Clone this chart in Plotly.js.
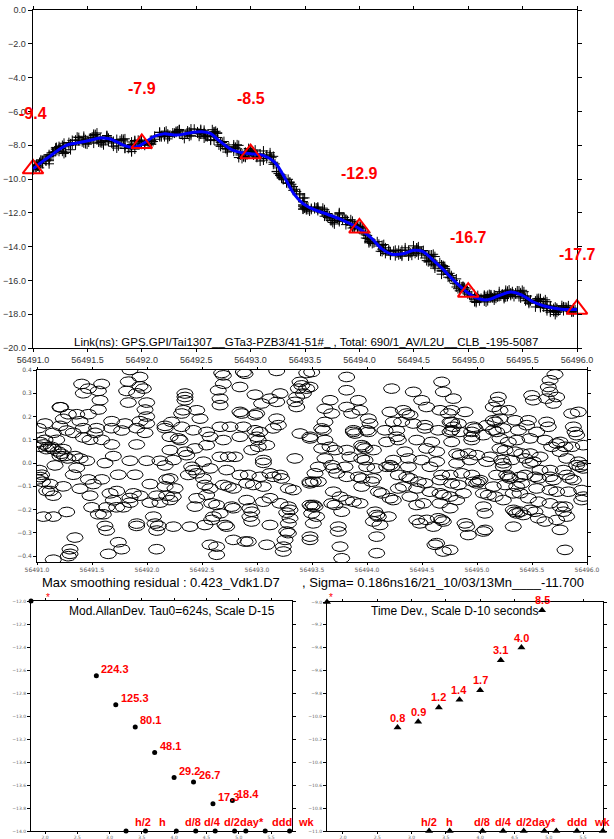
<!DOCTYPE html>
<html><head><meta charset="utf-8">
<script src="https://cdn.plot.ly/plotly-3.0.1.min.js"></script>
<style>html,body{margin:0;padding:0;background:#fff;}#chart{width:614px;height:839px;}</style>
</head><body><div id="chart"></div>
<script>
// ---------- top panel: smoothed link (ns) ----------
const smoothMJD = [56491.000,56491.050,56491.100,56491.156,56491.230,56491.310,56491.390,56491.463,56491.545,56491.620,
  56491.700,56491.770,56491.830,56491.920,56492.000,56492.060,56492.106,56492.200,56492.320,56492.410,
  56492.500,56492.550,56492.630,56492.720,56492.830,56492.920,56493.000,56493.120,56493.220,56493.320,
  56493.400,56493.480,56493.580,56493.710,56493.850,56493.990,56494.110,56494.210,56494.300,56494.400,
  56494.500,56494.580,56494.670,56494.770,56494.860,56494.980,56495.080,56495.180,56495.290,56495.390,
  56495.490,56495.590,56495.690,56495.780,56495.880,56496.000];
const smoothNs = [-9.40,-9.15,-8.90,-8.65,-8.30,-8.00,-7.88,-7.80,-7.68,-7.57,
  -7.62,-7.80,-8.00,-8.13,-7.95,-7.70,-7.50,-7.33,-7.40,-7.31,
  -7.22,-7.20,-7.30,-7.78,-8.28,-8.45,-8.50,-8.62,-9.00,-10.00,
  -10.90,-11.45,-11.80,-12.10,-12.45,-12.90,-13.50,-14.15,-14.45,-14.42,
  -14.22,-14.28,-14.75,-15.35,-15.95,-16.65,-17.05,-17.15,-16.88,-16.68,
  -16.85,-17.25,-17.50,-17.63,-17.72,-17.72];
const epochMJD = [56491.0,56492.0,56493.0,56494.0,56495.0,56496.0];
const epochNs = [-9.4,-7.9,-8.5,-12.9,-16.7,-17.7];
const epochLabels = ['-9.4','-7.9','-8.5','-12.9','-16.7','-17.7'];

// ---------- middle panel: smoothing residuals (ns) ----------
const residMJD = [
 56491.845,56491.936,56491.406,56491.467,56491.421,56491.588,56491.558,56491.830,56491.815,56491.936,
 56491.967,56491.906,56491.573,56491.558,56491.209,56491.215,56491.830,56491.997,56491.982,56491.997,
 56491.285,56491.361,56491.467,56491.239,56491.391,56491.073,56491.012,56491.679,56491.800,56491.936,
 56491.997,56492.164,56492.164,56491.209,56491.270,56491.421,56491.542,56491.679,56491.770,56491.906,
 56491.982,56491.148,56491.330,56491.527,56491.421,56491.482,56491.588,56491.073,56491.179,56491.027,
 56491.088,56491.148,56491.239,56491.209,56491.679,56491.906,56491.345,56491.391,56491.452,56491.694,
 56491.164,56491.361,56491.618,56491.845,56491.997,56492.118,56492.164,56491.042,56491.330,56491.467,
 56491.588,56491.739,56491.891,56491.005,56491.118,56491.239,56491.391,56491.512,56491.724,56491.876,
 56492.027,56492.179,56492.164,56491.088,56491.148,56491.482,56491.664,56491.694,56491.785,56491.845,
 56491.936,56492.088,56492.179,56491.497,56491.633,56491.724,56491.845,56492.118,56492.027,56491.603,
 56491.558,56491.058,56491.148,56491.270,56492.058,56492.073,56492.103,56492.088,56491.906,56491.906,
 56491.618,56491.633,56491.345,56491.739,56491.770,56492.088,56491.300,56491.300,56491.285,56491.648,
 56491.148,56491.030,56491.060,56491.100,56491.130,56491.190,56491.220,56491.250,56491.280,56491.020,
 56491.030,56491.050,56491.120,
 56492.679,56492.694,56492.876,56492.891,56493.179,56493.452,56492.694,56492.648,56492.845,56492.982,
 56493.042,56493.118,56493.179,56493.209,56493.391,56493.406,56493.376,56493.452,56493.421,56493.361,
 56493.345,56493.361,56492.345,56492.345,56492.345,56492.664,56492.664,56492.330,56492.315,56492.452,
 56492.482,56492.845,56492.861,56492.997,56492.982,56492.224,56492.315,56492.421,56492.542,56492.664,
 56492.755,56492.876,56492.982,56493.027,56493.179,56493.194,56493.148,56492.209,56492.285,56492.300,
 56492.573,56492.694,56492.845,56492.997,56493.012,56492.209,56492.345,56492.361,56492.436,56492.542,
 56492.664,56492.739,56492.800,56492.952,56493.012,56493.088,56493.058,56493.058,56493.391,56493.482,
 56492.239,56492.406,56492.421,56492.452,56492.512,56492.573,56492.724,56492.845,56492.921,56493.027,
 56493.118,56493.148,56493.209,56493.345,56492.255,56492.376,56492.512,56492.527,56492.573,56492.694,
 56492.739,56492.785,56492.906,56492.967,56493.058,56493.224,56493.285,56493.330,56493.482,56492.239,
 56492.452,56492.542,56492.588,56492.633,56492.770,56492.785,56492.906,56492.936,56493.058,56493.118,
 56493.209,56493.285,56493.300,56493.270,56492.436,56492.603,56492.664,56492.588,56492.709,56492.724,
 56492.952,56492.936,56492.952,56493.118,56493.285,56492.239,56492.391,56492.527,56493.270,56493.285,
 56493.255,56493.239,56493.239,56492.573,56492.633,56492.785,56492.891,56492.921,56493.088,56492.633,
 56492.209,56492.209,56493.482,56493.482,56493.497,56493.497,56493.300,
 56493.497,56493.482,56493.815,56493.815,56494.224,56494.421,56494.679,56494.694,56493.664,56493.921,
 56493.815,56493.618,56493.936,56493.679,56493.861,56494.209,56494.330,56494.361,56494.391,56494.497,
 56494.542,56494.664,56494.739,56493.618,56494.012,56494.027,56494.239,56494.315,56494.421,56494.527,
 56494.527,56494.755,56493.603,56493.588,56493.876,56493.876,56493.891,56493.997,56494.012,56494.164,
 56494.270,56494.648,56494.755,56493.482,56493.618,56493.664,56493.952,56493.967,56493.982,56494.179,
 56494.270,56494.285,56494.452,56494.588,56494.770,56493.588,56493.709,56493.815,56494.058,56494.345,
 56494.542,56494.633,56493.618,56493.845,56493.952,56493.982,56494.239,56494.376,56494.497,56494.633,
 56493.558,56493.679,56493.694,56493.800,56493.997,56494.073,56494.179,56494.209,56494.224,56494.376,
 56494.573,56493.527,56493.724,56493.815,56493.921,56493.952,56494.058,56494.042,56494.285,56494.361,
 56494.391,56494.467,56494.527,56494.679,56494.664,56493.512,56493.558,56493.952,56494.103,56494.133,
 56494.285,56494.330,56494.452,56494.573,56494.664,56494.694,56493.694,56493.755,56493.815,56493.876,
 56493.936,56493.679,56493.709,56494.209,56494.239,56494.391,56494.452,56494.512,56494.664,56493.512,
 56493.527,56493.542,56493.512,56493.770,56494.073,56494.088,56494.103,56494.194,56494.058,56494.118,
 56494.452,56494.482,56494.648,56494.679,56494.694,56494.542,56494.603,56493.739,56493.739,56494.088,
 56493.755,56493.770,56494.088,56494.633,56494.618,56494.694,56493.482,56493.482,
 56495.709,56495.664,56495.648,56495.664,56495.724,56495.694,56495.497,56495.512,56495.633,56495.194,
 56495.179,56494.785,56495.148,56495.209,56495.285,56494.891,56494.770,56495.921,56495.861,56494.770,
 56494.785,56494.830,56494.967,56494.982,56495.088,56495.148,56495.164,56495.209,56495.345,56495.467,
 56495.451,56495.633,56495.648,56494.770,56494.845,56494.952,56494.952,56495.058,56495.148,56495.179,
 56495.239,56495.376,56495.542,56495.876,56495.891,56495.906,56494.952,56495.209,56495.285,56495.361,
 56495.482,56495.618,56495.755,56495.800,56495.861,56495.724,56495.679,56495.967,56494.815,56494.845,
 56494.921,56494.997,56495.118,56495.209,56495.255,56495.345,56495.406,56495.482,56495.573,56495.755,
 56495.815,56495.921,56494.815,56494.936,56495.088,56495.224,56495.239,56495.239,56495.315,56495.436,
 56495.482,56495.512,56495.573,56495.664,56495.785,56495.906,56495.936,56495.967,56495.982,56494.755,
 56494.861,56494.952,56495.179,56495.270,56495.285,56495.300,56495.391,56495.436,56495.527,56495.558,
 56495.664,56495.694,56495.815,56495.845,56495.876,56494.770,56494.830,56494.967,56494.997,56495.012,
 56495.027,56495.148,56495.255,56495.361,56495.406,56495.542,56495.664,56495.724,56495.830,56495.952,
 56495.967,56495.952,56494.755,56494.876,56495.058,56495.103,56495.164,56495.239,56495.330,56495.391,
 56495.467,56495.558,56495.664,56495.755,56495.800,56495.785,56494.755,56494.815,56495.058,56495.073,
 56495.330,56495.345,56495.361,56495.391,56495.421,56495.482,56495.527,56495.558,56495.618,56495.724,
 56495.815,56494.891,56494.906,56494.921,56495.058,56495.073,56495.330,56495.755,56495.800,56494.755];
const residNs = [
 .40,.37,.34,.32,.30,.34,.31,.35,.31,.33,
 .32,.30,.27,.23,.24,.24,.26,.26,.23,.20,
 .21,.21,.21,.19,.18,.17,.15,.18,.17,.18,
 .17,.16,.15,.16,.14,.15,.15,.15,.14,.15,
 .13,.13,.13,.13,.11,.10,.10,.10,.10,.07,
 .06,.06,.06,.03,.08,.08,.03,.02,.01,.03,
 -.01,-.02,.00,.01,.01,.01,-.01,-.05,-.05,-.07,
 -.07,-.05,-.05,-.07,-.09,-.10,-.11,-.09,-.12,-.13,
 -.09,-.07,-.10,-.12,-.14,-.14,-.13,-.16,-.19,-.15,
 -.14,-.14,-.14,-.19,-.19,-.19,-.17,-.17,-.17,-.22,
 -.22,-.23,-.23,-.21,-.23,-.26,-.27,-.29,-.26,-.27,
 -.27,-.29,-.32,-.34,-.37,-.37,-.37,-.39,-.40,-.39,
 -.415,.09,.08,.07,.07,.05,.04,.03,.02,-.03,
 -.06,-.08,-.12,
 .387,.377,.391,.384,.396,.387,.341,.313,.327,.294,
 .256,.277,.263,.299,.349,.334,.320,.320,.299,.284,
 .263,.241,.299,.284,.270,.277,.249,.227,.213,.227,
 .191,.220,.213,.213,.206,.177,.156,.141,.134,.156,
 .156,.156,.141,.134,.191,.163,.149,.113,.106,.099,
 .113,.099,.113,.113,.099,.056,.049,.034,.063,.077,
 .027,.027,.027,.056,.070,.077,.013,.001,.127,.113,
 .013,-.016,-.030,-.044,.006,-.023,-.030,-.051,-.051,-.059,
 -.044,-.059,-.051,.020,-.109,-.051,-.066,-.094,-.109,-.094,
 -.101,-.109,-.087,-.094,-.101,-.066,-.109,-.116,-.080,-.144,
 -.151,-.137,-.173,-.180,-.187,-.194,-.159,-.194,-.166,-.151,
 -.173,-.187,-.201,-.213,-.187,-.230,-.216,-.244,-.266,-.273,
 -.209,-.230,-.251,-.266,-.259,-.273,-.273,-.266,-.294,-.301,
 -.330,-.359,-.380,-.351,-.359,-.330,-.337,-.337,-.351,-.394,
 -.066,-.159,-.087,-.180,-.187,-.216,-.237,
 .391,.327,.370,.313,.320,.306,.349,.306,.270,.270,
 .241,.234,.227,.213,.213,.220,.227,.213,.206,.270,
 .241,.227,.213,.177,.191,.170,.177,.177,.170,.163,
 .149,.177,.141,.149,.141,.134,.127,.141,.134,.141,
 .141,.141,.134,.106,.099,.070,.077,.070,.063,.091,
 .113,.099,.099,.091,.091,.063,.056,.056,.056,.049,
 .063,.049,.020,.027,.020,.013,.013,.020,.013,.006,
 -.016,-.009,-.023,-.016,-.016,-.023,-.016,-.009,-.016,-.016,
 -.016,-.044,-.044,-.059,-.059,-.066,-.066,-.080,-.051,-.059,
 -.066,-.080,-.087,-.051,-.073,-.080,-.080,-.101,-.123,-.130,
 -.109,-.101,-.109,-.123,-.130,-.137,-.123,-.144,-.159,-.166,
 -.173,-.173,-.180,-.151,-.159,-.144,-.180,-.173,-.173,-.180,
 -.187,-.230,-.259,-.209,-.209,-.223,-.230,-.230,-.251,-.266,
 -.244,-.259,-.237,-.244,-.251,-.244,-.273,-.273,-.294,-.316,
 -.359,-.409,-.387,-.344,-.351,-.380,-.316,-.330,
 .381,.356,.327,.306,.284,.256,.291,.270,.277,.284,
 .263,.277,.241,.227,.227,.220,.227,.220,.213,.177,
 .156,.170,.156,.149,.163,.184,.177,.191,.184,.184,
 .163,.177,.156,.141,.134,.134,.113,.120,.141,.134,
 .149,.141,.134,.156,.134,.120,.099,.106,.091,.099,
 .106,.099,.091,.070,.070,.084,.070,.077,.041,.034,
 .041,.034,.027,.063,.056,.049,.041,.041,.027,.049,
 .020,.006,-.001,.013,.006,.013,-.001,-.016,.013,.020,
 -.001,.006,-.030,-.030,-.030,-.009,-.016,-.023,-.009,-.051,
 -.044,-.051,-.051,-.051,-.059,-.066,-.059,-.051,-.059,-.066,
 -.059,-.073,-.051,-.066,-.073,-.087,-.094,-.080,-.087,-.080,
 -.073,-.101,-.094,-.101,-.087,-.109,-.116,-.123,-.123,-.116,
 -.144,-.159,-.144,-.130,-.130,-.137,-.144,-.159,-.130,-.130,
 -.151,-.166,-.173,-.187,-.187,-.209,-.194,-.159,-.187,-.216,
 -.201,-.209,-.216,-.209,-.223,-.201,-.209,-.237,-.251,-.244,
 -.230,-.259,-.273,-.309,-.294,-.287,-.273,-.287,-.373,-.373];

// ---------- bottom panels: stability (log10 tau, log10 value) ----------
const logTau = [2.795,3.096,3.397,3.698,3.999,4.300,4.601,4.902];
const madevLog = [-12.649,-12.902,-13.096,-13.318,-13.535,-13.573,-13.762,-13.735];
const madevLabels = ['224.3','125.3','80.1','48.1','29.2','26.7','17.3','18.4'];
const tdevLog = [-10.097,-10.046,-9.921,-9.854,-9.770,-9.509,-9.398,-9.071];
const tdevLabels = ['0.8','0.9','1.2','1.4','1.7','3.1','4.0','8.5'];
const spanLog = [3.255,3.556,4.033,4.334,4.635,4.936,5.110,5.410,5.788];
const spanLabelLog = [3.255,3.556,4.033,4.334,4.635,4.936,5.410,5.788];
const spanLabels = ['h/2','h','d/8','d/4','d/2','day*','ddd','wk'];
const madevFloor = -14.0, tdevFloor = -11.0;
const madevCornerLog = [1.783], tdevCornerLog = [1.767];
const madevCorner = [-12.0], tdevCorner = [-9.0];

// ---------- build ----------
function smoothAt(t){
  for (let i=1;i<smoothMJD.length;i++){
    if (t<=smoothMJD[i]){
      const f=(t-smoothMJD[i-1])/(smoothMJD[i]-smoothMJD[i-1]);
      return smoothNs[i-1]+f*(smoothNs[i]-smoothNs[i-1]);
    }
  }
  return smoothNs[smoothNs.length-1];
}
// raw link samples = smoothed curve + residual
const rawNs = residMJD.map((t,i)=>smoothAt(t)+residNs[i]);

// ellipse glyph outline (half-axes in data units ~ 8px x 4.8px)
const EA = 8*5/550, EB = 4.8*0.825/192;
const ex=[], ey=[];
residMJD.forEach((t,i)=>{
  for(let k=0;k<=24;k++){const a=k*Math.PI/12; ex.push(t+EA*Math.cos(a)); ey.push(residNs[i]+EB*Math.sin(a));}
  ex.push(null); ey.push(null);
});

const FONT = 'Liberation Sans, Arial, sans-serif';
const RED = '#ff0000';

const traces = [
  {x:residMJD, y:rawNs, xaxis:'x', yaxis:'y', mode:'markers', type:'scatter', hoverinfo:'skip',
   marker:{symbol:'cross-thin-open', size:7, color:'#000', line:{width:1, color:'#000'}}},
  {x:smoothMJD, y:smoothNs, xaxis:'x', yaxis:'y', mode:'lines', type:'scatter',
   line:{color:'#0000ff', width:3, shape:'spline', smoothing:1}},
  {x:epochMJD, y:epochNs, xaxis:'x', yaxis:'y', mode:'markers', type:'scatter', cliponaxis:false,
   marker:{symbol:'triangle-up-open', size:18, color:RED, line:{width:2, color:RED}}},
  {x:ex, y:ey, xaxis:'x2', yaxis:'y2', mode:'lines', type:'scatter', connectgaps:false, hoverinfo:'skip',
   line:{color:'#000', width:1}},
  {x:logTau, y:madevLog, xaxis:'x3', yaxis:'y3', mode:'markers', type:'scatter',
   marker:{symbol:'circle', size:5, color:'#000'}},
  {x:spanLog, y:spanLog.map(()=>madevFloor), xaxis:'x3', yaxis:'y3', mode:'markers', type:'scatter', cliponaxis:false,
   marker:{symbol:'circle', size:5, color:'#000'}},
  {x:madevCornerLog, y:madevCorner, xaxis:'x3', yaxis:'y3', mode:'markers', type:'scatter', cliponaxis:false,
   marker:{symbol:'circle', size:5, color:'#000'}},
  {x:logTau, y:tdevLog, xaxis:'x4', yaxis:'y4', mode:'markers', type:'scatter', cliponaxis:false,
   marker:{symbol:'triangle-up', size:7, color:'#000'}},
  {x:spanLog, y:spanLog.map(()=>tdevFloor), xaxis:'x4', yaxis:'y4', mode:'markers', type:'scatter', cliponaxis:false,
   marker:{symbol:'triangle-up', size:7, color:'#000'}},
  {x:tdevCornerLog, y:tdevCorner, xaxis:'x4', yaxis:'y4', mode:'markers', type:'scatter', cliponaxis:false,
   marker:{symbol:'triangle-up', size:7, color:'#000'}}
];

function axis(o){
  return Object.assign({showgrid:false, zeroline:false, showline:true, linecolor:'#000', linewidth:1,
    mirror:'ticks', ticks:'outside', ticklen:4, tickwidth:1, tickcolor:'#000', tickformat:'.1f',
    fixedrange:true}, o);
}
const W=614, H=839;
const px = v=>v/W, py = v=>1-v/H;

const annotations = [];
epochMJD.forEach((t,i)=>annotations.push({xref:'x', yref:'y', x:t, y:epochNs[i], yshift:55, showarrow:false,
  xanchor:'center', yanchor:'middle',
  text:'<b>'+epochLabels[i]+'</b>', font:{family:FONT, size:16, color:RED}}));
function paperText(x, y, text, font, xanchor){
  annotations.push({xref:'paper', yref:'paper', x:px(x), y:py(y), showarrow:false,
    xanchor:xanchor||'center', yanchor:'middle', text:text, font:font});
}
paperText(306, 342, 'Link(ns): GPS.GPI/Tai1307__GTa3-PZB3/41-51#_ , Total: 690/1_AV/L2U__CLB_-195-5087', {family:FONT, size:11.5, color:'#000'});
paperText(40, 582, 'Max smoothing residual : 0.423_Vdk1.D7', {family:FONT, size:13, color:'#000'}, 'left');
paperText(300, 582, ', Sigma= 0.186ns16/21_10/03/13Mn____-11.700', {family:FONT, size:13, color:'#000'}, 'left');
paperText(48, 597, '*', {family:FONT, size:10, color:RED});
paperText(331, 597, '*', {family:FONT, size:10, color:RED});
paperText(172, 611, 'Mod.AllanDev. Tau0=624s, Scale D-15', {family:FONT, size:12, color:'#000'});
paperText(454, 611, 'Time Dev., Scale D-10 seconds', {family:FONT, size:12, color:'#000'});
logTau.forEach((v,i)=>{
  annotations.push({xref:'x3', yref:'y3', x:v, y:madevLog[i], xanchor:'left', yanchor:'middle', xshift:3, yshift:7, showarrow:false,
    text:'<b>'+madevLabels[i]+'</b>', font:{family:FONT, size:11, color:RED}});
  annotations.push({xref:'x4', yref:'y4', x:v, y:tdevLog[i], xanchor:'center', yanchor:'middle', yshift:10, showarrow:false,
    text:'<b>'+tdevLabels[i]+'</b>', font:{family:FONT, size:11, color:RED}});
});
spanLabelLog.forEach((v,i)=>{
  annotations.push({xref:'x3', yref:'y3', x:v, y:madevFloor, xanchor:'center', yanchor:'middle', xshift:17, yshift:9, showarrow:false,
    text:'<b>'+spanLabels[i]+'</b>', font:{family:FONT, size:11, color:RED}});
  annotations.push({xref:'x4', yref:'y4', x:v, y:tdevFloor, xanchor:'center', yanchor:'middle', yshift:9, showarrow:false,
    text:'<b>'+spanLabels[i]+'</b>', font:{family:FONT, size:11, color:RED}});
});

const tf9 = {family:FONT, size:9, color:'#333'};
const tf7 = {family:'DejaVu Sans, sans-serif', size:6, color:'#555'};
const tf5 = {family:'DejaVu Sans, sans-serif', size:4.5, color:'#666'};

const layout = {
  width:W, height:H, margin:{l:0,r:0,t:0,b:0}, paper_bgcolor:'#fff', plot_bgcolor:'#fff', showlegend:false,
  font:{family:FONT},
  xaxis: axis({domain:[px(33),px(577)], range:[56491,56496], dtick:0.5, tick0:56491, anchor:'y', tickfont:tf9, linewidth:1.3, ticklen:3}),
  yaxis: axis({domain:[py(348),py(10)], range:[-20,0], dtick:2, tick0:0, anchor:'x', tickfont:tf9, linewidth:1.3}),
  xaxis2: axis({domain:[px(37),px(587)], range:[56491,56496], dtick:0.5, tick0:56491, anchor:'y2', tickfont:tf7, ticklen:2}),
  yaxis2: axis({domain:[py(562),py(370)], range:[-0.425,0.40], dtick:0.1, tick0:0, anchor:'x2', tickfont:tf7, ticklen:3}),
  xaxis3: axis({domain:[px(31),px(292)], range:[1.783,5.825], dtick:0.5, tick0:2, anchor:'y3', tickfont:tf5, ticklen:2}),
  yaxis3: axis({domain:[py(831),py(601)], range:[-14,-12], dtick:0.2, tick0:-12, anchor:'x3', tickfont:tf5, ticklen:3}),
  xaxis4: axis({domain:[px(327),px(603)], range:[1.767,5.79], dtick:0.5, tick0:2, anchor:'y4', tickfont:tf5, ticklen:2}),
  yaxis4: axis({domain:[py(831),py(602)], range:[-11,-9], dtick:0.2, tick0:-9, anchor:'x4', tickfont:tf5, ticklen:3}),
  annotations: annotations
};
Plotly.newPlot('chart', traces, layout, {staticPlot:true, displayModeBar:false});
</script></body></html>
